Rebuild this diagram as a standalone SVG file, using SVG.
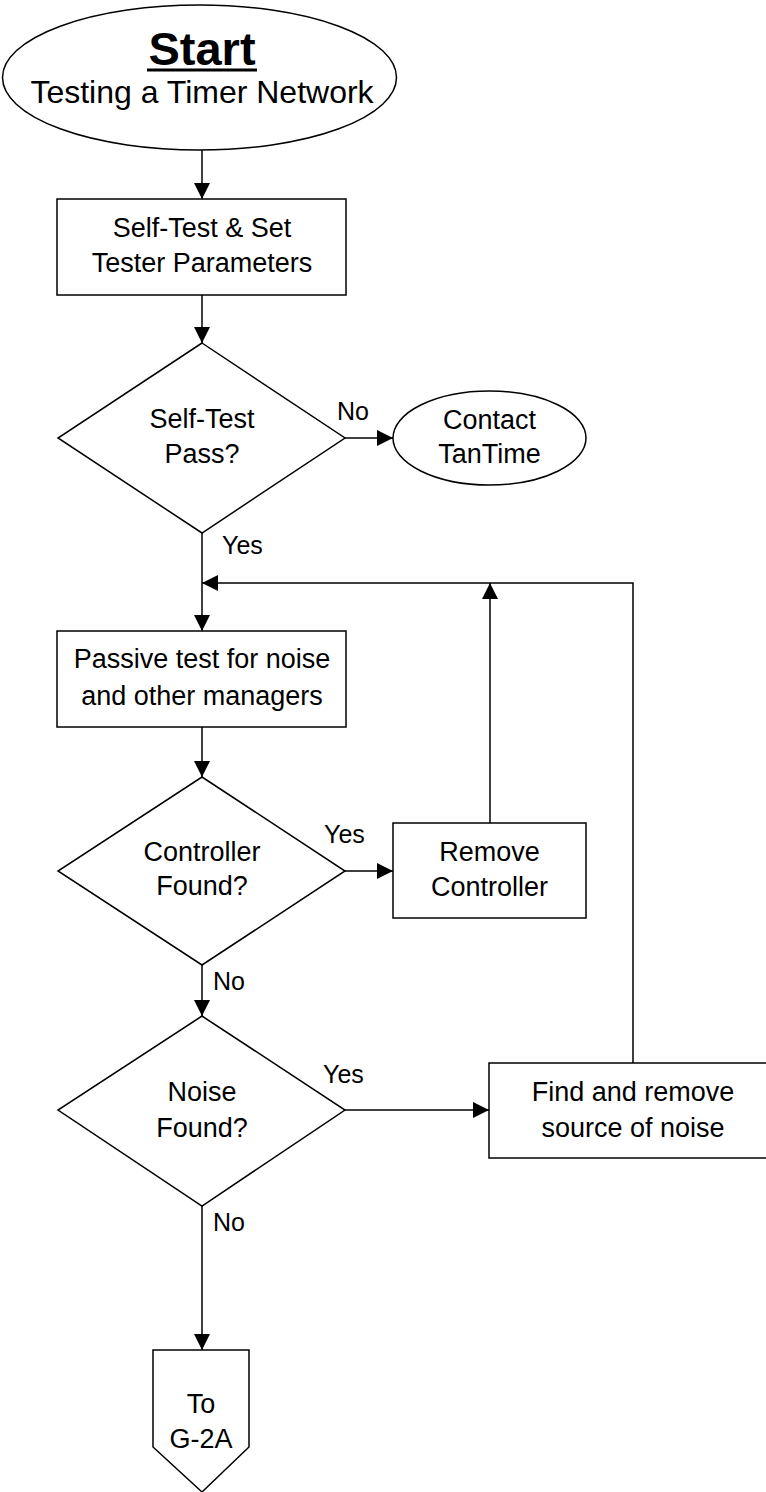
<svg xmlns="http://www.w3.org/2000/svg" width="766" height="1492" viewBox="0 0 766 1492">
<style>
.s{fill:#fff;stroke:#000;stroke-width:1.5}
.t{font-family:"Liberation Sans",Arial,sans-serif;font-size:27px;fill:#000;text-anchor:middle}
.l{font-family:"Liberation Sans",Arial,sans-serif;font-size:25px;fill:#000}
.c{fill:none;stroke:#000;stroke-width:1.5}
</style>
<defs>
<marker id="a" markerUnits="userSpaceOnUse" markerWidth="16" markerHeight="16" refX="16" refY="8" orient="auto" viewBox="0 0 16 16">
<path d="M0,0 L16,8 L0,16 z" fill="#000"/>
</marker>
</defs>
<rect width="766" height="1492" fill="#fff"/>
<g id="connectors">
<line class="c" x1="202" y1="150" x2="202" y2="199" marker-end="url(#a)"/>
<line class="c" x1="202" y1="295" x2="202" y2="343" marker-end="url(#a)"/>
<line class="c" x1="345" y1="438" x2="393" y2="438" marker-end="url(#a)"/>
<line class="c" x1="202" y1="533" x2="202" y2="631" marker-end="url(#a)"/>
<polyline class="c" points="633,1063 633,583 202,583" marker-end="url(#a)"/>
<line class="c" x1="490" y1="823" x2="490" y2="583" marker-end="url(#a)"/>
<line class="c" x1="202" y1="727" x2="202" y2="777" marker-end="url(#a)"/>
<line class="c" x1="345" y1="871" x2="393" y2="871" marker-end="url(#a)"/>
<line class="c" x1="202" y1="965" x2="202" y2="1016" marker-end="url(#a)"/>
<line class="c" x1="345" y1="1110" x2="489" y2="1110" marker-end="url(#a)"/>
<line class="c" x1="202" y1="1206" x2="202" y2="1350" marker-end="url(#a)"/>
<text class="l" x="337" y="420">No</text>
<text class="l" x="222" y="554">Yes</text>
<text class="l" x="324" y="843">Yes</text>
<text class="l" x="213" y="990">No</text>
<text class="l" x="323" y="1083">Yes</text>
<text class="l" x="213" y="1231">No</text>
</g>
<g id="start">
<ellipse class="s" cx="199.5" cy="77.5" rx="197" ry="72.5"/>
<text class="t" x="202" y="65" style="font-size:47px;font-weight:bold">Start</text>
<line x1="147" y1="70" x2="257" y2="70" stroke="#000" stroke-width="3"/>
<text class="t" x="202" y="103" style="font-size:32px">Testing a Timer Network</text>
</g>
<g id="selftest">
<rect class="s" x="57" y="199" width="289" height="96"/>
<text class="t" x="202" y="237">Self-Test &amp; Set</text>
<text class="t" x="202" y="272">Tester Parameters</text>
</g>
<g id="pass">
<polygon class="s" points="202,343 345,438 202,533 58,438"/>
<text class="t" x="202" y="428">Self-Test</text>
<text class="t" x="202" y="463">Pass?</text>
</g>
<g id="contact">
<ellipse class="s" cx="489.5" cy="438" rx="96.5" ry="47"/>
<text class="t" x="489.5" y="429">Contact</text>
<text class="t" x="489.5" y="463">TanTime</text>
</g>
<g id="passive">
<rect class="s" x="57" y="631" width="289" height="96"/>
<text class="t" x="202" y="668">Passive test for noise</text>
<text class="t" x="202" y="705">and other managers</text>
</g>
<g id="controller">
<polygon class="s" points="202,777 345,871 202,965 58,871"/>
<text class="t" x="202" y="861">Controller</text>
<text class="t" x="202" y="895">Found?</text>
</g>
<g id="remove">
<rect class="s" x="393" y="823" width="193" height="95"/>
<text class="t" x="489.5" y="861">Remove</text>
<text class="t" x="489.5" y="896">Controller</text>
</g>
<g id="noise">
<polygon class="s" points="202,1016 345,1110 202,1206 58,1110"/>
<text class="t" x="202" y="1101">Noise</text>
<text class="t" x="202" y="1137">Found?</text>
</g>
<g id="find">
<rect class="s" x="489" y="1063" width="289" height="95"/>
<text class="t" x="633" y="1101">Find and remove</text>
<text class="t" x="633" y="1137">source of noise</text>
</g>
<g id="offpage">
<polygon class="s" points="153,1350 249,1350 249,1447 202,1492 153,1447"/>
<text class="t" x="201" y="1413">To</text>
<text class="t" x="201" y="1448">G-2A</text>
</g>
</svg>
